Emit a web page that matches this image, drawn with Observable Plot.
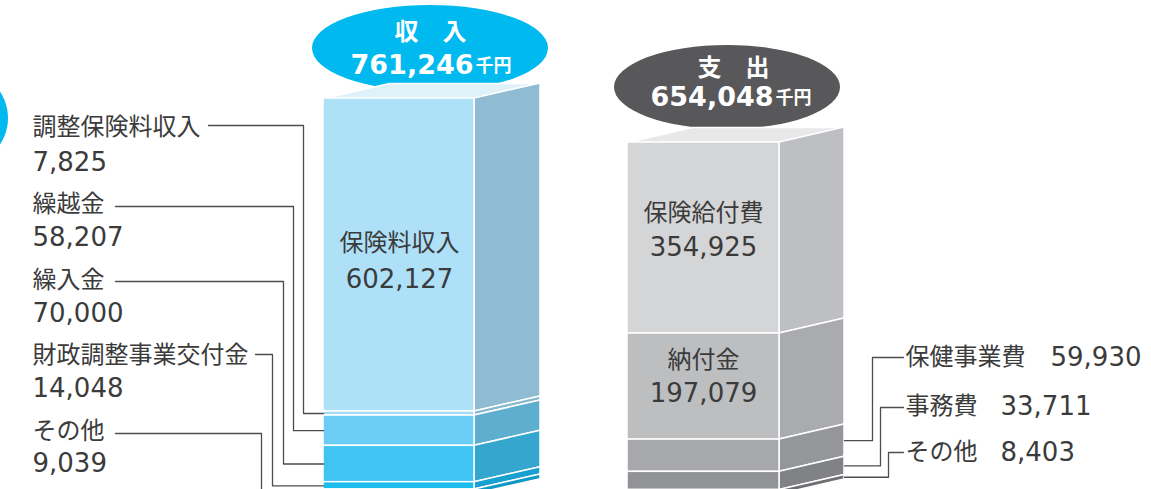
<!DOCTYPE html>
<html><head><meta charset="utf-8">
<script src="https://cdn.jsdelivr.net/npm/d3@7"></script>
<script src="https://cdn.jsdelivr.net/npm/@observablehq/plot@0.6"></script>
<style>
body{margin:0;background:#fff;}
#chart{display:flex;width:1151px;height:489px;overflow:hidden;}
#chart svg{flex:none;}
</style></head><body><div id="chart"></div>
<script>
// ---------------- data ----------------
const incomeTitle = "収　入";
const incomeCategories = ["保険料収入", "調整保険料収入", "繰越金", "繰入金", "財政調整事業交付金", "その他"];
const incomeValues = [602127, 7825, 58207, 70000, 14048, 9039];
const incomeTotal = 761246;

const expenseTitle = "支　出";
const expenseCategories = ["保険給付費", "納付金", "保健事業費", "事務費", "その他"];
const expenseValues = [354925, 197079, 59930, 33711, 8403];
const expenseTotal = 654048;

const unitLabel = "千円";

// ---------------- styles ----------------
const incomeFront = ["#aee0f8", "#a4dcf7", "#6bcdf4", "#40c5f2", "#1cbcee", "#0fb3e8"];
const incomeSide  = ["#8fbcd2", "#86b8d0", "#5daecf", "#35a7cf", "#17a0d0", "#0f97c7"];
const incomeTopFace = "#dff2fa";
const expenseFront = ["#d4d5d7", "#bdbec0", "#a7a8ab", "#929396", "#7e7f82"];
const expenseSide  = ["#bebfc2", "#aaabae", "#959699", "#818285", "#6e6f72"];
const expenseTopFace = "#e8e8e9";
const textColor = "#3b3b3b";
const leaderColor = "#4d4d4d";
const FONT = "'DejaVu Sans','Noto Sans CJK JP',sans-serif";
const fmt = d3.format(",");

function stackSegments(cats, vals, total) {
  let cum = 0;
  return cats.map((c, i) => {
    const hi = total - cum; cum += vals[i];
    return {cat: c, value: vals[i], hi, lo: hi - vals[i], mid: hi - vals[i] / 2, i};
  });
}

function ellipseMark(cx, cy, rx, ry, fill) {
  return (index, scales) => {
    const sx = scales && scales.x ? scales.x : v => v;
    const sy = scales && scales.y ? scales.y : v => v;
    const e = document.createElementNS("http://www.w3.org/2000/svg", "ellipse");
    const X = sx(cx), Y = sy(cy);
    e.setAttribute("cx", X); e.setAttribute("cy", Y);
    e.setAttribute("rx", Math.abs(sx(cx + rx) - X));
    e.setAttribute("ry", ry);
    e.setAttribute("fill", fill);
    return e;
  };
}

function textMarks(rows, fontSize) {
  return ["start", "middle", "end"].map(a =>
    Plot.text(rows.filter(r => r.a === a), {x: "x", y: "y", text: "t", textAnchor: a, fontSize, fill: textColor})
  );
}

function panel(cfg) {
  const segs = stackSegments(cfg.cats, cfg.vals, cfg.total);
  const yS = d3.scaleLinear().domain([0, cfg.total]).range([cfg.yBase, cfg.yTop]);
  const v = px => yS.invert(px);
  const dv = v(cfg.yTop - cfg.depthY) - cfg.total;   // depth in value units
  const fl = cfg.fl, fr = cfg.fr, br = cfg.fr + cfg.depthX;

  const topFace = [
    {x: fl, y: cfg.total}, {x: fr, y: cfg.total},
    {x: br, y: cfg.total + dv}, {x: fl + cfg.depthX, y: cfg.total + dv}, {x: fl, y: cfg.total}
  ];
  const sideRows = segs.flatMap(s => [
    {x: fr, lo: s.lo, hi: s.hi, i: s.i, fill: cfg.side[s.i]},
    {x: br, lo: s.lo + dv, hi: s.hi + dv, i: s.i, fill: cfg.side[s.i]}
  ]);

  const leaderRows = [];
  cfg.leaders.forEach(L => {
    const s = segs[L.seg];
    const attachY = L.side ? s.mid + dv : s.mid;
    const attachX = L.side ? br : fl;
    leaderRows.push({k: L.seg, x: L.x0, y: v(L.py)});
    leaderRows.push({k: L.seg, x: L.elbow, y: v(L.py)});
    leaderRows.push({k: L.seg, x: L.elbow, y: attachY});
    leaderRows.push({k: L.seg, x: attachX, y: attachY});
  });

  const nameRows = cfg.names.map(n => ({x: n.x, y: v(n.py), t: cfg.cats[n.seg], a: n.anchor || "start"}));
  const numRows = cfg.nums.map(n => ({x: n.x, y: v(n.py), t: fmt(cfg.vals[n.seg]), a: n.anchor || "start"}));

  const E = cfg.ell;
  const marks = [
    ...(cfg.extra || []).map(x => x(v)),
    ellipseMark(E.cx, v(E.cy), E.rx, E.ry, E.fill),
    Plot.line(topFace, {x: "x", y: "y", fill: cfg.topFace, stroke: "white", strokeWidth: 1.5}),
    Plot.area(sideRows, {x1: "x", y1: "lo", y2: "hi", z: "i", fill: "fill", stroke: "white", strokeWidth: 1.5}),
    Plot.rect(segs, {x1: fl, x2: fr, y1: "lo", y2: "hi", fill: d => cfg.front[d.i], stroke: "white", strokeWidth: 1.5}),
    Plot.line(leaderRows, {x: "x", y: "y", z: "k", stroke: leaderColor, strokeWidth: 1.3}),
    ...textMarks(nameRows, 24),
    ...textMarks(numRows, 26),
    Plot.text([cfg.title], {x: E.titleX, y: v(E.titleY), text: d => d, fontSize: 24, fontWeight: "bold", fill: "white"}),
    Plot.text([fmt(cfg.total)], {x: E.numEnd, y: v(E.numY), text: d => d, textAnchor: "end", fontSize: 27, fontWeight: "bold", fill: "white"}),
    Plot.text([unitLabel], {x: E.numEnd + 2, y: v(E.numY + 1), text: d => d, textAnchor: "start", fontSize: 18, fontWeight: "bold", fill: "white"})
  ];

  return Plot.plot({
    width: cfg.width, height: 489, margin: 0,
    x: {domain: [cfg.x0, cfg.x0 + cfg.width], range: [0, cfg.width], axis: null},
    y: {domain: [0, cfg.total], range: [cfg.yBase, cfg.yTop], axis: null},
    color: {type: "identity"},
    style: {fontFamily: FONT, background: "transparent", overflow: "hidden"},
    marks
  });
}

const left = panel({
  cats: incomeCategories, vals: incomeValues, total: incomeTotal,
  front: incomeFront, side: incomeSide, topFace: incomeTopFace, title: incomeTitle,
  x0: 0, width: 575, yBase: 493.7, yTop: 98, fl: 323, fr: 474, depthX: 66, depthY: 15,
  ell: {cx: 430, cy: 48, rx: 118, ry: 43, fill: "#00b9ef", titleX: 430, titleY: 32, numEnd: 473, numY: 65},
  extra: [v => ellipseMark(-40, v(118), 48, 48, "#00b9ef")],
  leaders: [
    {seg: 1, x0: 208, py: 125, elbow: 303},
    {seg: 2, x0: 115, py: 206, elbow: 293},
    {seg: 3, x0: 115, py: 281, elbow: 283},
    {seg: 4, x0: 255, py: 354, elbow: 272},
    {seg: 5, x0: 115, py: 433, elbow: 261}
  ],
  names: [
    {seg: 0, x: 399, py: 243, anchor: "middle"},
    {seg: 1, x: 32, py: 127}, {seg: 2, x: 32, py: 204}, {seg: 3, x: 32, py: 280},
    {seg: 4, x: 32, py: 355}, {seg: 5, x: 32, py: 431}
  ],
  nums: [
    {seg: 0, x: 399, py: 279, anchor: "middle"},
    {seg: 1, x: 32, py: 162}, {seg: 2, x: 32, py: 237}, {seg: 3, x: 32, py: 313},
    {seg: 4, x: 32, py: 388}, {seg: 5, x: 32, py: 463}
  ]
});

const right = panel({
  cats: expenseCategories, vals: expenseValues, total: expenseTotal,
  front: expenseFront, side: expenseSide, topFace: expenseTopFace, title: expenseTitle,
  x0: 575, width: 576, yBase: 494, yTop: 142, fl: 627, fr: 779, depthX: 65, depthY: 15,
  ell: {cx: 727, cy: 87, rx: 113, ry: 42, fill: "#58585a", titleX: 733, titleY: 68, numEnd: 773, numY: 97},
  leaders: [
    {seg: 2, x0: 903, py: 357, elbow: 872, side: true},
    {seg: 3, x0: 903, py: 407, elbow: 880, side: true},
    {seg: 4, x0: 903, py: 452, elbow: 888, side: true}
  ],
  names: [
    {seg: 0, x: 703, py: 213, anchor: "middle"},
    {seg: 1, x: 703, py: 360, anchor: "middle"},
    {seg: 2, x: 905, py: 357}, {seg: 3, x: 905, py: 406}, {seg: 4, x: 905, py: 452}
  ],
  nums: [
    {seg: 0, x: 703, py: 247, anchor: "middle"},
    {seg: 1, x: 703, py: 393, anchor: "middle"},
    {seg: 2, x: 1050, py: 357}, {seg: 3, x: 1000, py: 406}, {seg: 4, x: 1000, py: 452}
  ]
});

document.getElementById("chart").append(left, right);
</script></body></html>
